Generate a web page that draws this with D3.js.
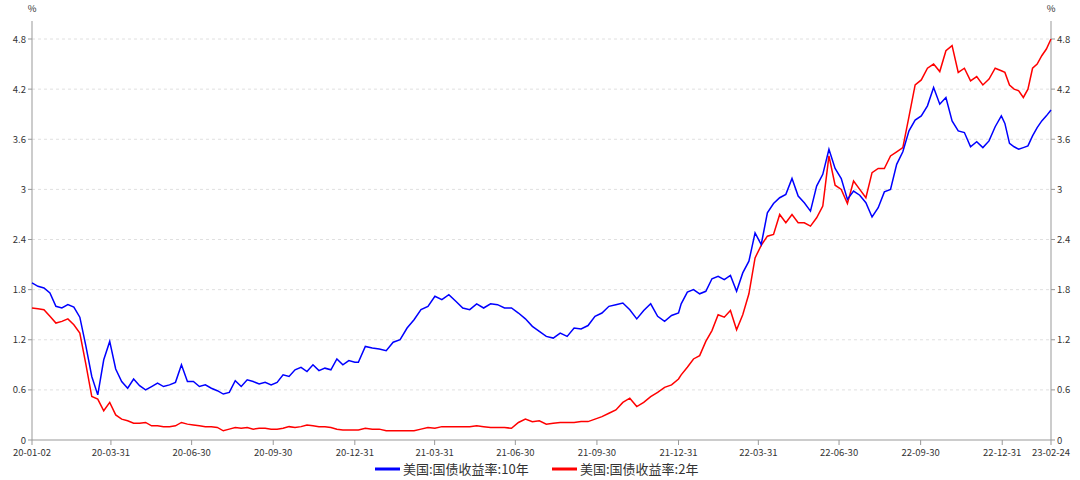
<!DOCTYPE html>
<html><head><meta charset="utf-8">
<script src="https://cdn.jsdelivr.net/npm/d3@7"></script>
<style>body{margin:0;background:#fff}text{font-family:"Noto Sans CJK SC","Noto Sans",sans-serif}</style>
</head><body><svg id="c" width="1080" height="480"></svg>
<script>
const yTicks=[0,0.6,1.2,1.8,2.4,3,3.6,4.2,4.8];
const xTickLabels=["20-01-02","20-03-31","20-06-30","20-09-30","20-12-31","21-03-31","21-06-30","21-09-30","21-12-31","22-03-31","22-06-30","22-09-30","22-12-31","23-02-24"];
const seriesNames=["美国:国债收益率:10年","美国:国债收益率:2年"];
const yearSpans=[["2020-01-02","2020-12-31"],["2021-01-04","2021-12-31"],["2022-01-03","2022-12-30"],["2023-01-03","2023-02-24"]];
const us10y=[
[1.88,1.84,1.82,1.76,1.60,1.58,1.62,1.59,1.47,1.13,0.76,0.54,0.96,1.18,0.85,0.70,0.62,0.73,0.65,0.60,0.64,0.68,0.64,0.66,0.69,0.90,0.70,0.70,0.64,0.66,0.62,0.59,0.55,0.57,0.71,0.64,0.72,0.70,0.67,0.69,0.66,0.69,0.78,0.76,0.84,0.87,0.82,0.90,0.83,0.86,0.84,0.97,0.90,0.95,0.93],
[0.93,1.12,1.10,1.09,1.07,1.17,1.20,1.34,1.44,1.56,1.60,1.72,1.68,1.74,1.66,1.58,1.56,1.63,1.58,1.63,1.62,1.58,1.58,1.52,1.45,1.36,1.30,1.24,1.22,1.28,1.24,1.34,1.33,1.37,1.48,1.52,1.60,1.62,1.64,1.56,1.45,1.55,1.63,1.48,1.42,1.49,1.52],
[1.63,1.77,1.80,1.75,1.78,1.93,1.96,1.92,1.97,1.78,2.00,2.14,2.48,2.34,2.72,2.83,2.90,2.94,3.13,2.92,2.84,2.74,3.04,3.18,3.48,3.25,3.13,2.88,2.98,2.93,2.84,2.67,2.78,2.97,3.00,3.30,3.45,3.70,3.83,3.88,4.00,4.22,4.02,4.10,3.82,3.70,3.68,3.51,3.57,3.50,3.58,3.75,3.88],
[3.79,3.55,3.51,3.48,3.50,3.52,3.64,3.74,3.82,3.88,3.95]];
const us2y=[
[1.58,1.57,1.56,1.48,1.40,1.42,1.45,1.38,1.28,0.91,0.52,0.49,0.35,0.45,0.30,0.25,0.23,0.20,0.20,0.21,0.17,0.17,0.16,0.16,0.17,0.21,0.19,0.18,0.17,0.16,0.16,0.15,0.11,0.13,0.15,0.14,0.15,0.13,0.14,0.14,0.13,0.13,0.14,0.16,0.15,0.16,0.18,0.17,0.16,0.16,0.15,0.13,0.12,0.12,0.12],
[0.12,0.14,0.13,0.13,0.11,0.11,0.11,0.11,0.11,0.13,0.15,0.14,0.16,0.16,0.16,0.16,0.16,0.17,0.16,0.15,0.15,0.15,0.14,0.21,0.25,0.22,0.23,0.19,0.20,0.21,0.21,0.21,0.22,0.22,0.25,0.28,0.32,0.36,0.45,0.50,0.40,0.45,0.52,0.57,0.63,0.66,0.73],
[0.78,0.87,0.97,1.01,1.18,1.31,1.50,1.47,1.55,1.32,1.50,1.75,2.18,2.33,2.44,2.46,2.70,2.60,2.70,2.60,2.60,2.56,2.66,2.80,3.40,3.05,3.00,2.83,3.10,3.00,2.90,3.20,3.25,3.25,3.40,3.45,3.50,3.87,4.25,4.31,4.45,4.50,4.41,4.66,4.72,4.40,4.45,4.30,4.35,4.25,4.32,4.45,4.42],
[4.40,4.25,4.20,4.18,4.10,4.20,4.45,4.50,4.60,4.68,4.80]];

const P=d3.timeParse("%Y-%m-%d");
function build(groups){const out=[];groups.forEach((vals,i)=>{const a=P(yearSpans[i][0]),b=P(yearSpans[i][1]);const t=d3.scaleLinear().domain([0,vals.length-1]).range([+a,+b]);vals.forEach((v,j)=>out.push({d:new Date(t(j)),v}));});return out;}
const s10=build(us10y),s2=build(us2y);
const svg=d3.select("#c");
const L=32,R=1051,T=21,B=440;
const x=d3.scaleTime().domain([P("2020-01-02"),P("2023-02-24")]).range([L,R]);
const y=d3.scaleLinear().domain([0,4.8]).range([B,39]);
const tp=d3.timeParse("%y-%m-%d");
const g=svg.append("g");
yTicks.forEach(t=>{if(t>0)g.append("line").attr("x1",L).attr("x2",R).attr("y1",y(t)).attr("y2",y(t)).attr("stroke","#e0e0e0").attr("stroke-dasharray","3,3");});
g.append("line").attr("x1",L).attr("x2",L).attr("y1",T).attr("y2",B).attr("stroke","#999");
g.append("line").attr("x1",R).attr("x2",R).attr("y1",T).attr("y2",B).attr("stroke","#999");
g.append("line").attr("x1",L).attr("x2",R).attr("y1",B).attr("y2",B).attr("stroke","#999");
yTicks.forEach(t=>{
 g.append("line").attr("x1",L-4).attr("x2",L).attr("y1",y(t)).attr("y2",y(t)).attr("stroke","#999");
 g.append("line").attr("x1",R).attr("x2",R+4).attr("y1",y(t)).attr("y2",y(t)).attr("stroke","#999");
 g.append("text").attr("x",L-6).attr("y",y(t)+3.5).attr("text-anchor","end").attr("font-size",9.5).attr("fill","#333").text(t);
 g.append("text").attr("x",R+6).attr("y",y(t)+3.5).attr("font-size",9.5).attr("fill","#333").text(t);
});
g.append("text").attr("x",L).attr("y",12).attr("text-anchor","middle").attr("font-size",9.5).attr("fill","#333").text("%");
g.append("text").attr("x",R).attr("y",12).attr("text-anchor","middle").attr("font-size",9.5).attr("fill","#333").text("%");
xTickLabels.forEach(s=>{const xx=x(tp(s));
 g.append("line").attr("x1",xx).attr("x2",xx).attr("y1",B).attr("y2",B+5).attr("stroke","#999");
 g.append("text").attr("x",xx).attr("y",B+16).attr("text-anchor","middle").attr("font-size",9.5).attr("fill","#333").text(s);});
const line=d3.line().x(d=>x(d.d)).y(d=>y(d.v));
g.append("path").datum(s2).attr("d",line).attr("fill","none").attr("stroke","#ff0000").attr("stroke-width",1.5);
g.append("path").datum(s10).attr("d",line).attr("fill","none").attr("stroke","#0000ff").attr("stroke-width",1.5);
const cols=["#0000ff","#ff0000"],lx=[375,552];
seriesNames.forEach((n,i)=>{
 g.append("line").attr("x1",lx[i]).attr("x2",lx[i]+25).attr("y1",469).attr("y2",469).attr("stroke",cols[i]).attr("stroke-width",3);
 g.append("text").attr("x",lx[i]+28).attr("y",474).attr("font-size",13).attr("fill","#333").text(n);});
</script></body></html>
